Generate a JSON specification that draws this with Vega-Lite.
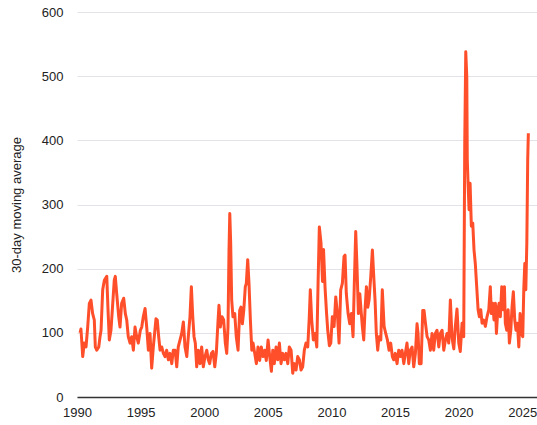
{
  "$schema": "https://vega.github.io/schema/vega-lite/v6.json",
  "autosize": "none",
  "width": 460,
  "height": 385,
  "padding": {"left": 77, "top": 12, "right": 0, "bottom": 28},
  "background": "white",
  "config": {
    "view": {"stroke": null},
    "font": "Liberation Sans",
    "axis": {"labelFont": "Liberation Sans", "titleFont": "Liberation Sans", "labelColor": "#222222", "titleColor": "#222222", "labelFontSize": 13, "titleFontSize": 13, "titleFontWeight": "normal"}
  },
  "data": {
    "values": [
      {"year": 1990.24, "value": 100}, {"year": 1990.31, "value": 106}, {"year": 1990.45, "value": 63}, {"year": 1990.57, "value": 84},
      {"year": 1990.71, "value": 78}, {"year": 1990.84, "value": 109}, {"year": 1990.97, "value": 146}, {"year": 1991.10, "value": 151},
      {"year": 1991.23, "value": 130}, {"year": 1991.36, "value": 120}, {"year": 1991.44, "value": 78}, {"year": 1991.55, "value": 73},
      {"year": 1991.71, "value": 78}, {"year": 1991.81, "value": 94}, {"year": 1991.89, "value": 104}, {"year": 1992.02, "value": 167},
      {"year": 1992.15, "value": 182}, {"year": 1992.34, "value": 188}, {"year": 1992.44, "value": 135}, {"year": 1992.54, "value": 89},
      {"year": 1992.67, "value": 104}, {"year": 1992.81, "value": 146}, {"year": 1992.93, "value": 182}, {"year": 1993.01, "value": 188},
      {"year": 1993.12, "value": 161}, {"year": 1993.28, "value": 125}, {"year": 1993.38, "value": 109}, {"year": 1993.51, "value": 146},
      {"year": 1993.67, "value": 154}, {"year": 1993.80, "value": 130}, {"year": 1993.91, "value": 120}, {"year": 1994.03, "value": 94},
      {"year": 1994.17, "value": 84}, {"year": 1994.30, "value": 94}, {"year": 1994.43, "value": 73}, {"year": 1994.56, "value": 109},
      {"year": 1994.69, "value": 94}, {"year": 1994.82, "value": 84}, {"year": 1994.98, "value": 104}, {"year": 1995.09, "value": 109},
      {"year": 1995.21, "value": 125}, {"year": 1995.35, "value": 138}, {"year": 1995.48, "value": 109}, {"year": 1995.61, "value": 73},
      {"year": 1995.74, "value": 99}, {"year": 1995.87, "value": 45}, {"year": 1996.00, "value": 78}, {"year": 1996.21, "value": 122},
      {"year": 1996.31, "value": 120}, {"year": 1996.42, "value": 94}, {"year": 1996.53, "value": 73}, {"year": 1996.66, "value": 78},
      {"year": 1996.79, "value": 68}, {"year": 1996.92, "value": 63}, {"year": 1997.05, "value": 73}, {"year": 1997.18, "value": 58},
      {"year": 1997.31, "value": 68}, {"year": 1997.45, "value": 52}, {"year": 1997.57, "value": 73}, {"year": 1997.71, "value": 73},
      {"year": 1997.84, "value": 47}, {"year": 1997.96, "value": 78}, {"year": 1998.10, "value": 89}, {"year": 1998.23, "value": 99},
      {"year": 1998.36, "value": 117}, {"year": 1998.49, "value": 78}, {"year": 1998.63, "value": 63}, {"year": 1998.75, "value": 94},
      {"year": 1998.88, "value": 125}, {"year": 1998.99, "value": 172}, {"year": 1999.10, "value": 125}, {"year": 1999.20, "value": 94},
      {"year": 1999.30, "value": 84}, {"year": 1999.41, "value": 47}, {"year": 1999.54, "value": 73}, {"year": 1999.67, "value": 52},
      {"year": 1999.80, "value": 78}, {"year": 1999.93, "value": 47}, {"year": 2000.06, "value": 63}, {"year": 2000.20, "value": 73},
      {"year": 2000.32, "value": 58}, {"year": 2000.43, "value": 52}, {"year": 2000.56, "value": 68}, {"year": 2000.69, "value": 71},
      {"year": 2000.83, "value": 47}, {"year": 2000.95, "value": 68}, {"year": 2001.09, "value": 120}, {"year": 2001.16, "value": 143},
      {"year": 2001.27, "value": 109}, {"year": 2001.40, "value": 125}, {"year": 2001.53, "value": 120}, {"year": 2001.66, "value": 84},
      {"year": 2001.77, "value": 68}, {"year": 2001.87, "value": 109}, {"year": 2001.95, "value": 229}, {"year": 2002.01, "value": 286},
      {"year": 2002.08, "value": 240}, {"year": 2002.16, "value": 151}, {"year": 2002.26, "value": 125}, {"year": 2002.40, "value": 130},
      {"year": 2002.52, "value": 94}, {"year": 2002.66, "value": 73}, {"year": 2002.79, "value": 135}, {"year": 2002.89, "value": 140},
      {"year": 2003.00, "value": 114}, {"year": 2003.11, "value": 135}, {"year": 2003.23, "value": 172}, {"year": 2003.31, "value": 177},
      {"year": 2003.42, "value": 214}, {"year": 2003.52, "value": 177}, {"year": 2003.63, "value": 120}, {"year": 2003.74, "value": 73},
      {"year": 2003.84, "value": 84}, {"year": 2003.97, "value": 68}, {"year": 2004.10, "value": 52}, {"year": 2004.23, "value": 78},
      {"year": 2004.36, "value": 57}, {"year": 2004.49, "value": 78}, {"year": 2004.62, "value": 63}, {"year": 2004.76, "value": 73},
      {"year": 2004.88, "value": 57}, {"year": 2005.02, "value": 89}, {"year": 2005.15, "value": 63}, {"year": 2005.28, "value": 40},
      {"year": 2005.39, "value": 73}, {"year": 2005.51, "value": 52}, {"year": 2005.65, "value": 78}, {"year": 2005.78, "value": 58},
      {"year": 2005.91, "value": 84}, {"year": 2006.04, "value": 52}, {"year": 2006.17, "value": 68}, {"year": 2006.30, "value": 58},
      {"year": 2006.43, "value": 68}, {"year": 2006.57, "value": 52}, {"year": 2006.69, "value": 78}, {"year": 2006.83, "value": 73},
      {"year": 2006.96, "value": 37}, {"year": 2007.08, "value": 52}, {"year": 2007.22, "value": 42}, {"year": 2007.35, "value": 63},
      {"year": 2007.48, "value": 58}, {"year": 2007.61, "value": 42}, {"year": 2007.74, "value": 47}, {"year": 2007.87, "value": 73},
      {"year": 2008.00, "value": 84}, {"year": 2008.14, "value": 78}, {"year": 2008.26, "value": 125}, {"year": 2008.34, "value": 167},
      {"year": 2008.45, "value": 120}, {"year": 2008.58, "value": 89}, {"year": 2008.71, "value": 99}, {"year": 2008.85, "value": 78},
      {"year": 2008.95, "value": 177}, {"year": 2009.05, "value": 265}, {"year": 2009.18, "value": 240}, {"year": 2009.30, "value": 180},
      {"year": 2009.38, "value": 230}, {"year": 2009.50, "value": 170}, {"year": 2009.62, "value": 130}, {"year": 2009.71, "value": 104},
      {"year": 2009.84, "value": 80}, {"year": 2009.95, "value": 84}, {"year": 2010.07, "value": 125}, {"year": 2010.21, "value": 110},
      {"year": 2010.34, "value": 156}, {"year": 2010.47, "value": 130}, {"year": 2010.60, "value": 84}, {"year": 2010.73, "value": 167},
      {"year": 2010.86, "value": 177}, {"year": 2010.99, "value": 219}, {"year": 2011.07, "value": 221}, {"year": 2011.17, "value": 161},
      {"year": 2011.31, "value": 130}, {"year": 2011.44, "value": 114}, {"year": 2011.57, "value": 130}, {"year": 2011.70, "value": 94},
      {"year": 2011.80, "value": 177}, {"year": 2011.91, "value": 258}, {"year": 2012.01, "value": 203}, {"year": 2012.12, "value": 130},
      {"year": 2012.23, "value": 161}, {"year": 2012.33, "value": 135}, {"year": 2012.43, "value": 110}, {"year": 2012.54, "value": 89},
      {"year": 2012.64, "value": 135}, {"year": 2012.75, "value": 172}, {"year": 2012.86, "value": 140}, {"year": 2012.96, "value": 151},
      {"year": 2013.09, "value": 187}, {"year": 2013.22, "value": 229}, {"year": 2013.33, "value": 187}, {"year": 2013.43, "value": 151},
      {"year": 2013.53, "value": 99}, {"year": 2013.64, "value": 73}, {"year": 2013.74, "value": 94}, {"year": 2013.88, "value": 89},
      {"year": 2014.00, "value": 167}, {"year": 2014.14, "value": 110}, {"year": 2014.27, "value": 99}, {"year": 2014.40, "value": 89},
      {"year": 2014.53, "value": 73}, {"year": 2014.66, "value": 84}, {"year": 2014.79, "value": 63}, {"year": 2014.90, "value": 58},
      {"year": 2015.02, "value": 68}, {"year": 2015.16, "value": 52}, {"year": 2015.29, "value": 73}, {"year": 2015.42, "value": 63},
      {"year": 2015.55, "value": 73}, {"year": 2015.69, "value": 52}, {"year": 2015.81, "value": 68}, {"year": 2015.94, "value": 84},
      {"year": 2016.08, "value": 52}, {"year": 2016.20, "value": 73}, {"year": 2016.34, "value": 78}, {"year": 2016.47, "value": 47},
      {"year": 2016.60, "value": 68}, {"year": 2016.73, "value": 114}, {"year": 2016.81, "value": 99}, {"year": 2016.91, "value": 52},
      {"year": 2017.05, "value": 52}, {"year": 2017.18, "value": 135}, {"year": 2017.28, "value": 135}, {"year": 2017.38, "value": 117},
      {"year": 2017.52, "value": 94}, {"year": 2017.65, "value": 89}, {"year": 2017.78, "value": 73}, {"year": 2017.91, "value": 99},
      {"year": 2018.04, "value": 73}, {"year": 2018.17, "value": 99}, {"year": 2018.30, "value": 104}, {"year": 2018.44, "value": 78},
      {"year": 2018.56, "value": 99}, {"year": 2018.70, "value": 104}, {"year": 2018.83, "value": 73}, {"year": 2018.96, "value": 89},
      {"year": 2019.09, "value": 99}, {"year": 2019.22, "value": 84}, {"year": 2019.35, "value": 151}, {"year": 2019.48, "value": 92},
      {"year": 2019.62, "value": 75}, {"year": 2019.74, "value": 110}, {"year": 2019.87, "value": 137}, {"year": 2020.01, "value": 84},
      {"year": 2020.13, "value": 71}, {"year": 2020.27, "value": 115}, {"year": 2020.40, "value": 94}, {"year": 2020.48, "value": 396},
      {"year": 2020.56, "value": 538}, {"year": 2020.64, "value": 499}, {"year": 2020.68, "value": 370}, {"year": 2020.74, "value": 333},
      {"year": 2020.82, "value": 292}, {"year": 2020.90, "value": 333}, {"year": 2021.00, "value": 266}, {"year": 2021.11, "value": 271},
      {"year": 2021.21, "value": 229}, {"year": 2021.31, "value": 208}, {"year": 2021.42, "value": 172}, {"year": 2021.53, "value": 136},
      {"year": 2021.63, "value": 125}, {"year": 2021.74, "value": 136}, {"year": 2021.84, "value": 115}, {"year": 2021.97, "value": 120},
      {"year": 2022.10, "value": 110}, {"year": 2022.23, "value": 125}, {"year": 2022.37, "value": 136}, {"year": 2022.49, "value": 172},
      {"year": 2022.57, "value": 130}, {"year": 2022.68, "value": 146}, {"year": 2022.78, "value": 120}, {"year": 2022.89, "value": 146},
      {"year": 2022.97, "value": 99}, {"year": 2023.08, "value": 136}, {"year": 2023.18, "value": 146}, {"year": 2023.28, "value": 125},
      {"year": 2023.39, "value": 172}, {"year": 2023.49, "value": 136}, {"year": 2023.60, "value": 172}, {"year": 2023.67, "value": 115},
      {"year": 2023.78, "value": 104}, {"year": 2023.89, "value": 136}, {"year": 2023.99, "value": 84}, {"year": 2024.10, "value": 104},
      {"year": 2024.20, "value": 141}, {"year": 2024.30, "value": 164}, {"year": 2024.41, "value": 120}, {"year": 2024.51, "value": 104},
      {"year": 2024.62, "value": 115}, {"year": 2024.73, "value": 78}, {"year": 2024.83, "value": 130}, {"year": 2024.93, "value": 99},
      {"year": 2025.04, "value": 94}, {"year": 2025.12, "value": 167}, {"year": 2025.20, "value": 208}, {"year": 2025.28, "value": 167},
      {"year": 2025.36, "value": 240}, {"year": 2025.43, "value": 370}, {"year": 2025.48, "value": 411}
    ]
  },
  "mark": {"type": "line", "color": "#ff4f2a", "strokeWidth": 3, "strokeJoin": "round", "clip": false},
  "encoding": {
    "x": {
      "field": "year",
      "type": "quantitative",
      "scale": {"domain": [1990, 2026.16], "nice": false, "zero": false},
      "axis": {
        "values": [1990, 1995, 2000, 2005, 2010, 2015, 2020, 2025],
        "format": "d",
        "title": null,
        "grid": false,
        "ticks": false,
        "domainColor": "#333333",
        "domainWidth": 1.5,
        "labelPadding": 9,
        "labelFlush": false
      }
    },
    "y": {
      "field": "value",
      "type": "quantitative",
      "scale": {"domain": [0, 600], "nice": false},
      "axis": {
        "values": [0, 100, 200, 300, 400, 500, 600],
        "title": "30-day moving average",
        "domain": false,
        "ticks": false,
        "labelPadding": 14,
        "titlePadding": 18,
        "gridColor": "#e2e2e8",
        "gridWidth": 1
      }
    }
  }
}
